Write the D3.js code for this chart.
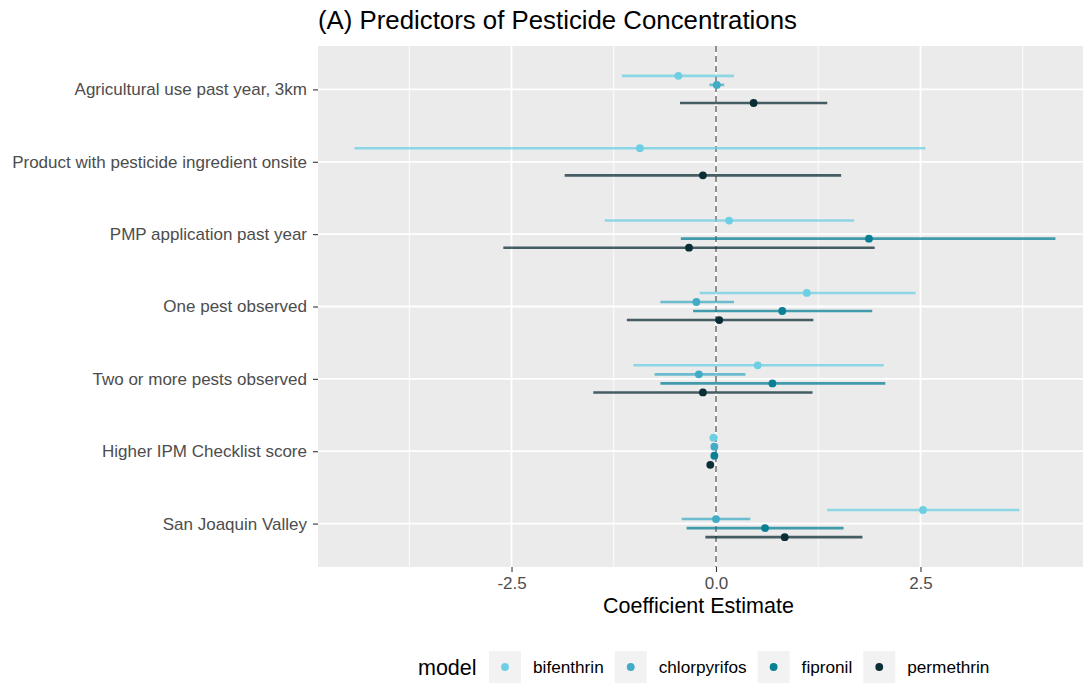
<!DOCTYPE html>
<html>
<head>
<meta charset="utf-8">
<script src="https://cdn.jsdelivr.net/npm/d3@7"></script>
<style>
  html, body { margin: 0; padding: 0; background: #ffffff; }
  svg { display: block; font-family: "Liberation Sans", Arial, sans-serif; }
</style>
</head>
<body>
<svg id="chart" width="1086" height="683"></svg>
<script>
// Predictors (top to bottom) and model names
const predictors = [
  "Agricultural use past year, 3km",
  "Product with pesticide ingredient onsite",
  "PMP application past year",
  "One pest observed",
  "Two or more pests observed",
  "Higher IPM Checklist score",
  "San Joaquin Valley"
];
const models = ["bifenthrin", "chlorpyrifos", "fipronil", "permethrin"];
const modelColors = ["#6dcfe3", "#41acc6", "#0a8094", "#0b2d36"];
const xTicks = [-2.5, 0, 2.5];
const xMinorTicks = [-3.75, -1.25, 1.25, 3.75];

// Coefficient estimates with 95% interval, per model (null = not in model)
const bifenthrinEst  = [-0.46, -0.93, 0.16, 1.11, 0.51, -0.03, 2.53];
const bifenthrinLow  = [-1.15, -4.42, -1.36, -0.20, -1.01, -0.08, 1.36];
const bifenthrinHigh = [0.22, 2.56, 1.69, 2.44, 2.05, 0.02, 3.71];

const chlorpyrifosEst  = [0.01, null, null, -0.24, -0.21, -0.02, 0.00];
const chlorpyrifosLow  = [-0.08, null, null, -0.68, -0.75, -0.06, -0.42];
const chlorpyrifosHigh = [0.10, null, null, 0.22, 0.36, 0.02, 0.42];

const fipronilEst  = [null, null, 1.87, 0.81, 0.69, -0.02, 0.60];
const fipronilLow  = [null, null, -0.43, -0.28, -0.68, -0.06, -0.36];
const fipronilHigh = [null, null, 4.15, 1.91, 2.07, 0.02, 1.56];

const permethrinEst  = [0.46, -0.16, -0.33, 0.04, -0.16, -0.07, 0.84];
const permethrinLow  = [-0.44, -1.85, -2.60, -1.09, -1.50, -0.11, -0.13];
const permethrinHigh = [1.36, 1.53, 1.94, 1.19, 1.18, -0.03, 1.79];

const seriesEst  = [bifenthrinEst, chlorpyrifosEst, fipronilEst, permethrinEst];
const seriesLow  = [bifenthrinLow, chlorpyrifosLow, fipronilLow, permethrinLow];
const seriesHigh = [bifenthrinHigh, chlorpyrifosHigh, fipronilHigh, permethrinHigh];

const rows = [];
models.forEach((m, mi) => {
  predictors.forEach((p, pi) => {
    if (seriesEst[mi][pi] === null) return;
    rows.push({ model: m, mi, predictor: p,
      est: seriesEst[mi][pi], lo: seriesLow[mi][pi], hi: seriesHigh[mi][pi] });
  });
});

const svg = d3.select("#chart");
const panel = { left: 318, right: 1083, top: 46, bottom: 567 };

const x = d3.scaleLinear().domain([-4.866, 4.487]).range([panel.left, panel.right]);
const y = d3.scalePoint().domain(predictors).range([panel.top, panel.bottom]).padding(0.6);
const dodge = d3.scaleBand().domain(models).range([-0.25, 0.25]);
const dodgeY = d => y(d.predictor) + (dodge(d.model) + dodge.bandwidth() / 2) * y.step();
const color = d3.scaleOrdinal().domain(models).range(modelColors);

// Title
svg.append("text")
  .attr("x", 318).attr("y", 29)
  .attr("font-size", 25.8).attr("fill", "#000")
  .text("(A) Predictors of Pesticide Concentrations");

// Panel background and grid
svg.append("rect")
  .attr("x", panel.left).attr("y", panel.top)
  .attr("width", panel.right - panel.left).attr("height", panel.bottom - panel.top)
  .attr("fill", "#ebebeb");

const grid = svg.append("g");
grid.selectAll(".minor").data(xMinorTicks).join("line")
  .attr("x1", d => x(d)).attr("x2", d => x(d))
  .attr("y1", panel.top).attr("y2", panel.bottom)
  .attr("stroke", "#fff").attr("stroke-width", 0.9);
grid.selectAll(".majorx").data(xTicks).join("line")
  .attr("x1", d => x(d)).attr("x2", d => x(d))
  .attr("y1", panel.top).attr("y2", panel.bottom)
  .attr("stroke", "#fff").attr("stroke-width", 1.8);
grid.selectAll(".majory").data(predictors).join("line")
  .attr("x1", panel.left).attr("x2", panel.right)
  .attr("y1", d => y(d)).attr("y2", d => y(d))
  .attr("stroke", "#fff").attr("stroke-width", 1.8);

// Reference line at zero
svg.append("line")
  .attr("x1", x(0)).attr("x2", x(0))
  .attr("y1", panel.top).attr("y2", panel.bottom)
  .attr("stroke", "#858585").attr("stroke-width", 1.8)
  .attr("stroke-dasharray", "6,4");

// Intervals and point estimates
const marks = svg.append("g");
marks.selectAll(".ci").data(rows).join("line")
  .attr("x1", d => x(d.lo)).attr("x2", d => x(d.hi))
  .attr("y1", dodgeY).attr("y2", dodgeY)
  .attr("stroke", d => color(d.model))
  .attr("stroke-opacity", 0.75)
  .attr("stroke-width", 2.6);
marks.selectAll(".pt").data(rows).join("circle")
  .attr("cx", d => x(d.est)).attr("cy", dodgeY)
  .attr("r", 3.9)
  .attr("fill", d => color(d.model));

// Y axis
const yAxis = svg.append("g").attr("transform", `translate(${panel.left},0)`)
  .call(d3.axisLeft(y).tickSize(5).tickPadding(6));
yAxis.select(".domain").remove();
yAxis.selectAll(".tick line").attr("stroke", "#333").attr("stroke-width", 1.1);
yAxis.selectAll(".tick text")
  .attr("font-size", 17).attr("fill", "#4d4d4d").attr("font-family", null);

// X axis
const xAxis = svg.append("g").attr("transform", `translate(0,${panel.bottom})`)
  .call(d3.axisBottom(x).tickValues(xTicks).tickFormat(d3.format(".1f")).tickSize(5).tickPadding(5));
xAxis.select(".domain").remove();
xAxis.selectAll(".tick line").attr("stroke", "#333").attr("stroke-width", 1.1);
xAxis.selectAll(".tick text")
  .attr("font-size", 17).attr("fill", "#4d4d4d").attr("font-family", null)
  .text(d => d3.format(".1f")(d).replace("−", "-"));

svg.append("text")
  .attr("x", (panel.left + panel.right) / 2 - 2).attr("y", 613)
  .attr("text-anchor", "middle")
  .attr("font-size", 21.5).attr("fill", "#000")
  .text("Coefficient Estimate");

// Legend
const legend = svg.append("g");
const legendY = 667;
legend.append("text")
  .attr("x", 418).attr("y", legendY).attr("dy", "0.35em")
  .attr("font-size", 21.5).attr("fill", "#000")
  .text("model");
let lx = 489;
models.forEach(m => {
  legend.append("rect")
    .attr("x", lx).attr("y", legendY - 16)
    .attr("width", 32).attr("height", 32)
    .attr("fill", "#f2f2f2");
  legend.append("circle")
    .attr("cx", lx + 16).attr("cy", legendY).attr("r", 3.9)
    .attr("fill", color(m));
  const t = legend.append("text")
    .attr("x", lx + 44).attr("y", legendY).attr("dy", "0.35em")
    .attr("font-size", 17.2).attr("fill", "#000")
    .text(m);
  lx = lx + 44 + t.node().getComputedTextLength() + 11;
});
</script>
</body>
</html>
